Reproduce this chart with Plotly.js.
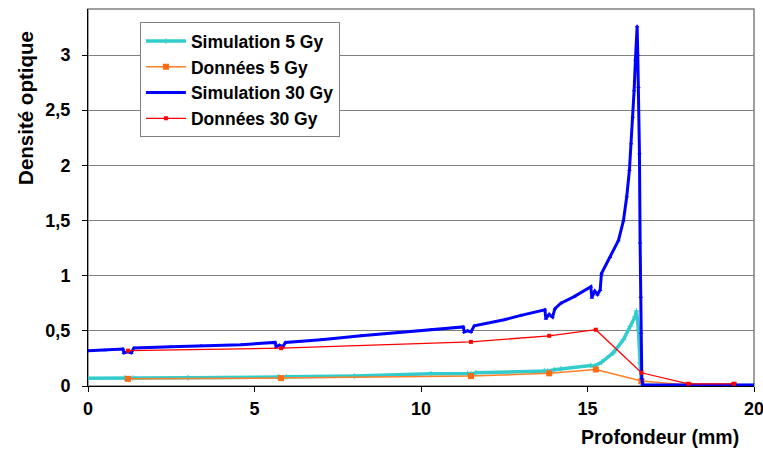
<!DOCTYPE html>
<html>
<head>
<meta charset="utf-8">
<script src="https://cdn.plot.ly/plotly-3.0.1.min.js"></script>
<style>html,body{margin:0;padding:0;background:#fff;}#chart{width:763px;height:450px;}</style>
</head>
<body>
<div id="chart"></div>
<script>
// Simulation 30 Gy
const sim30X = [0, 0.5, 1.05, 1.08, 1.2, 1.3, 1.38, 2.5, 3.4, 4.6, 5.62, 5.65, 5.75, 5.85, 5.93, 7, 8.2, 9.3, 10.3, 11.27, 11.3, 11.4, 11.5, 11.6, 12.5, 13.0, 13.72, 13.75, 13.85, 13.95, 14.02, 14.2, 14.6, 15.1, 15.13, 15.22, 15.3, 15.38, 15.42, 15.68, 15.93, 16.08, 16.18, 16.26, 16.31, 16.36, 16.40, 16.44, 16.49, 16.51, 16.53, 16.56, 16.58, 16.60, 16.61, 16.63, 16.66, 18, 20];
const sim30Y = [0.32, 0.325, 0.335, 0.30, 0.31, 0.30, 0.345, 0.355, 0.365, 0.375, 0.395, 0.355, 0.37, 0.355, 0.395, 0.42, 0.455, 0.485, 0.51, 0.535, 0.49, 0.50, 0.49, 0.545, 0.60, 0.64, 0.69, 0.61, 0.65, 0.625, 0.70, 0.75, 0.81, 0.90, 0.80, 0.86, 0.83, 0.87, 1.02, 1.17, 1.32, 1.50, 1.72, 1.96, 2.20, 2.44, 2.68, 2.96, 3.26, 3.0, 2.71, 2.11, 1.30, 0.81, 0.48, 0.07, 0.01, 0.01, 0.01];
// Simulation 5 Gy
const sim5X = [0, 1.1, 1.15, 1.35, 3, 5.7, 5.75, 5.95, 8, 10.3, 11.4, 11.5, 11.65, 13.7, 13.8, 14.0, 14.2, 15.1, 15.2, 15.42, 15.77, 16.08, 16.28, 16.43, 16.47, 16.53, 16.58, 16.62, 16.7, 20];
const sim5Y = [0.07, 0.072, 0.065, 0.072, 0.075, 0.082, 0.078, 0.083, 0.09, 0.11, 0.115, 0.11, 0.12, 0.14, 0.135, 0.148, 0.155, 0.185, 0.18, 0.215, 0.30, 0.42, 0.54, 0.63, 0.68, 0.51, 0.21, 0.02, 0.005, 0.005];
// Données 5 Gy
const don5X = [1.2, 5.8, 11.5, 13.85, 15.25, 16.62, 18.03, 19.4];
const don5Y = [0.065, 0.072, 0.09, 0.115, 0.15, 0.045, 0.01, 0.01];
// Données 30 Gy
const don30X = [1.2, 5.8, 11.5, 13.85, 15.25, 16.62, 18.03, 19.4];
const don30Y = [0.32, 0.343, 0.40, 0.455, 0.51, 0.12, 0.02, 0.02];

const xTicks = [0, 5, 10, 15, 20];
const yTicks = [0, 0.5, 1, 1.5, 2, 2.5, 3];

const FONT = 'Arial, "Liberation Sans", sans-serif';

const traces = [
  {x: sim5X, y: sim5Y, name: 'Simulation 5 Gy', mode: 'lines+markers', legendgroup: 'a',
   line: {color: '#33CCCC', width: 3.5}, marker: {symbol: 'cross-thin', size: 4, color: '#33CCCC', line: {color: '#33CCCC', width: 1}}},
  {x: don5X, y: don5Y, name: 'Données 5 Gy', mode: 'lines+markers', legendgroup: 'b',
   line: {color: '#FF7F27', width: 1.5}, marker: {symbol: 'square', size: 6, color: '#FF6A10'}},
  {x: sim30X, y: sim30Y, name: 'Simulation 30 Gy', mode: 'lines+markers', legendgroup: 'c',
   line: {color: '#0000FF', width: 3}, marker: {symbol: 'triangle-up', size: 4, color: '#0000FF'}},
  {x: don30X, y: don30Y, name: 'Données 30 Gy', mode: 'lines+markers', legendgroup: 'd',
   line: {color: '#FF0000', width: 1.3}, marker: {symbol: 'square', size: 4, color: '#FF0000'}}
];

const layout = {
  width: 763, height: 450,
  margin: {l: 88, r: 9, t: 9, b: 64, pad: 0},
  paper_bgcolor: '#ffffff', plot_bgcolor: '#ffffff',
  separators: ', ',
  font: {family: FONT, size: 14, color: '#000'},
  showlegend: true,
  legend: {
    x: 0.078, y: 0.965, xanchor: 'left', yanchor: 'top',
    bgcolor: '#ffffff', bordercolor: '#808080', borderwidth: 1,
    font: {family: FONT, size: 17.5, color: '#000', weight: 'bold'},
    tracegroupgap: 4.5, itemwidth: 40, traceorder: 'normal'
  },
  xaxis: {
    range: [0, 20], tickvals: xTicks, ticktext: xTicks.map(String),
    showgrid: false, zeroline: false, showline: true, linecolor: '#000', linewidth: 1,
    ticks: 'outside', ticklen: 5, tickcolor: '#000', ticklabelstandoff: 1,
    ticklabeloverflow: 'allow',
    tickfont: {family: FONT, size: 18, color: '#000', weight: 'bold'}
  },
  yaxis: {
    range: [0, 3.417], tickvals: yTicks, ticktext: yTicks.map(v => String(v).replace('.', ',')),
    showgrid: true, gridcolor: '#808080', gridwidth: 1, zeroline: false,
    showline: true, linecolor: '#000', linewidth: 1,
    ticks: 'outside', ticklen: 5, tickcolor: '#000', ticklabelstandoff: 8,
    tickfont: {family: FONT, size: 18, color: '#000', weight: 'bold'}
  },
  shapes: [
    {type: 'rect', xref: 'paper', yref: 'paper', x0: 0, x1: 1, y0: 0, y1: 1,
     line: {color: '#808080', width: 1.5}, layer: 'below'}
  ],
  annotations: [
    {text: 'Densité optique', xref: 'paper', yref: 'paper', x: -0.095, y: 0.737,
     textangle: -90, showarrow: false, xanchor: 'center', yanchor: 'middle',
     font: {family: FONT, size: 20.5, color: '#000', weight: 'bold'}},
    {text: 'Profondeur (mm)', xref: 'paper', yref: 'paper', x: 0.98, y: -0.135,
     showarrow: false, xanchor: 'right', yanchor: 'middle',
     font: {family: FONT, size: 19.5, color: '#000', weight: 'bold'}}
  ]
};

Plotly.newPlot('chart', traces, layout, {displayModeBar: false, staticPlot: true});
</script>
</body>
</html>
